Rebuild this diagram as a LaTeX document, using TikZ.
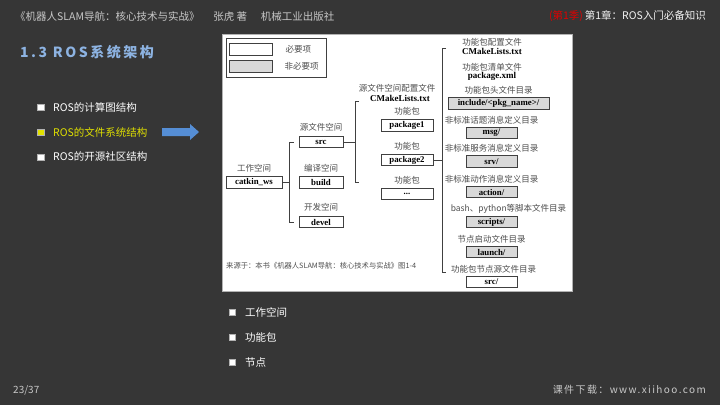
\documentclass[tikz,border=0pt]{standalone}
\usepackage{fontspec}
\setmainfont{Noto Sans CJK SC}
\newfontfamily\boxserif{Liberation Serif}
\newfontfamily\titlefont[LetterSpace=18]{Noto Sans CJK SC}
\newfontfamily\footfont[LetterSpace=14]{Noto Sans CJK SC}
\usetikzlibrary{positioning}

\definecolor{bg}{HTML}{363636}
\definecolor{hdrgray}{HTML}{C8C8C8}
\definecolor{hdrwhite}{HTML}{F2F2F2}
\definecolor{hdrred}{HTML}{E00000}
\definecolor{titleblue}{HTML}{8DB3E2}
\definecolor{hlyellow}{HTML}{E1E100}
\definecolor{arrowblue}{HTML}{558ED5}
\definecolor{boxline}{HTML}{404040}
\definecolor{optgray}{HTML}{D9D9D9}
\definecolor{lblgray}{HTML}{4D4D4D}

\tikzset{
  box/.style={draw=boxline, line width=0.8pt, fill=white, inner sep=0pt,
    minimum height=11.5pt, font=\boxserif\bfseries\fontsize{8.8}{9}\selectfont},
  optbox/.style={box, fill=optgray},
  lbl/.style={text=lblgray, inner sep=0pt, font=\fontsize{8.5}{9}\selectfont},
  boldlbl/.style={text=black, inner sep=0pt, font=\boxserif\bfseries\fontsize{9}{10}\selectfont},
  conn/.style={boxline, line width=0.8pt},
  bullet/.style={draw=gray!60, fill=white, minimum size=6.5pt, inner sep=0pt},
  item/.style={inner sep=0pt, font=\fontsize{10.5}{12}\selectfont},
}

\begin{document}
\begin{tikzpicture}[x=1pt, y=-1pt]
  % Fondo
  \fill[bg] (0,0) rectangle (720,405);
  \useasboundingbox (0,0) rectangle (720,405);

  % Cabecera
  \node[anchor=west, inner sep=0pt, text=hdrgray, font=\fontsize{10.5}{12}\selectfont] (book) at (15,16)
    {《机器人SLAM导航：核心技术与实战》\hspace{1.3em}张虎 著\hspace{1.3em}机械工业出版社};
  \node[anchor=east, inner sep=0pt, text=hdrwhite, font=\fontsize{10.5}{12}\selectfont] (chap) at (706,16)
    {\textcolor{hdrred}{(第1季)}\,第1章：ROS入门必备知识};

  % Titulo
  \node[anchor=west, inner sep=0pt, text=titleblue, font=\titlefont\bfseries\fontsize{14}{16}\selectfont] (title) at (20,52)
    {1.3 ROS系统架构};

  % Lista izquierda
  \node[bullet] (b1) at (40.5,107) {};
  \node[bullet, fill=hlyellow] (b2) at (40.5,132) {};
  \node[bullet] (b3) at (40.5,157) {};
  \node[item, text=white, right=9pt of b1] (t1) {ROS的计算图结构};
  \node[item, text=hlyellow, right=9pt of b2] (t2) {ROS的文件系统结构};
  \node[item, text=white, right=9pt of b3] (t3) {ROS的开源社区结构};

  % Flecha
  \fill[arrowblue] (162,128) -- (190,128) -- (190,124) -- (199,132) -- (190,140)
    -- (190,136) -- (162,136) -- cycle;

  % Figura
  \fill[white] (222,34) rectangle (572,291);
  \draw[gray!60, line width=0.6pt] (222,34) rectangle (572,291);

  % Leyenda
  \draw[conn] (226,38) rectangle (326,77);
  \node[box, minimum width=43pt, minimum height=12pt] (legreq) at (250.5,49) {};
  \node[optbox, minimum width=43pt, minimum height=12pt] (legopt) at (250.5,66) {};
  \node[lbl, right=13pt of legreq] (legreqlbl) {必要项};
  \node[lbl, right=12pt of legopt] (legoptlbl) {非必要项};

  % Espacio de trabajo
  \node[box, minimum width=56pt] (ws) at (254,182.5) {catkin\_ws};
  \node[lbl, above=4pt of ws] (wslbl) {工作空间};
  \node[box, minimum width=44pt] (src) at (321,142) {src};
  \node[box, minimum width=44pt] (build) at (321,182.5) {build};
  \node[box, minimum width=44pt] (devel) at (321,222) {devel};
  \node[lbl, above=4pt of src] (srclbl) {源文件空间};
  \node[lbl, above=4pt of build] (buildlbl) {编译空间};
  \node[lbl, above=4pt of devel] (devellbl) {开发空间};

  % Espacio de fuentes
  \node[lbl] (srccfg) at (397,88) {源文件空间配置文件};
  \node[boldlbl] (srccmake) at (400,98) {CMakeLists.txt};
  \node[box, minimum width=52pt] (pkg1) at (407,125.5) {package1};
  \node[box, minimum width=52pt] (pkg2) at (407,160) {package2};
  \node[box, minimum width=52pt] (pkgn) at (407,194) {...};
  \node[lbl, above=3.5pt of pkg1] (pkg1lbl) {功能包};
  \node[lbl, above=3.5pt of pkg2] (pkg2lbl) {功能包};
  \node[lbl, above=3.5pt of pkgn] (pkgnlbl) {功能包};

  % Paquete
  \node[lbl] (pkgcfg) at (492,42) {功能包配置文件};
  \node[boldlbl] (pkgcmake) at (492,51) {CMakeLists.txt};
  \node[lbl] (pkgman) at (492,67) {功能包清单文件};
  \node[boldlbl] (pkgxml) at (492,76) {package.xml};
  \node[optbox, minimum width=101pt] (incl) at (498.5,103.5) {include/<pkg\_name>/};
  \node[optbox, minimum width=51pt] (msg) at (491.5,133) {msg/};
  \node[optbox, minimum width=51pt] (srv) at (491.5,161.5) {srv/};
  \node[optbox, minimum width=51pt] (act) at (491.5,192) {action/};
  \node[optbox, minimum width=51pt] (scr) at (491.5,222) {scripts/};
  \node[optbox, minimum width=51pt] (lau) at (491.5,252) {launch/};
  \node[box, minimum width=51pt] (nsrc) at (491.5,282) {src/};
  \node[lbl, above=2.5pt of incl] (incllbl) {功能包头文件目录};
  \node[lbl, above=2.5pt of msg] (msglbl) {非标准话题消息定义目录};
  \node[lbl, above=2.5pt of srv] (srvlbl) {非标准服务消息定义目录};
  \node[lbl, above=2.5pt of act] (actlbl) {非标准动作消息定义目录};
  \node[lbl, above=2.5pt of scr, xshift=17pt] (scrlbl) {bash、python等脚本文件目录};
  \node[lbl, above=2.5pt of lau] (laulbl) {节点启动文件目录};
  \node[lbl, above=2.5pt of nsrc, xshift=2pt] (nsrclbl) {功能包节点源文件目录};

  % Llaves
  \coordinate (k2top) at (359,101);
  \coordinate (k2bot) at (359,182);
  \coordinate (k3top) at (446,48);
  \coordinate (k3bot) at (446,272);
  \draw[conn] (ws.east) -- ++(8,0);
  \draw[conn] ([xshift=-5pt]src.west) -- ++(-4,0) |- ([xshift=-5pt]devel.west);
  \draw[conn] (src.east) -- ++(12,0);
  \draw[conn] (k2top) -- ++(-4,0) |- (k2bot);
  \draw[conn] (pkg2.east) -- ++(9,0);
  \draw[conn] (k3top) -- ++(-4,0) |- (k3bot);

  % Fuente
  \node[anchor=west, inner sep=0pt, text=lblgray, font=\fontsize{7.3}{8}\selectfont] (note) at (226,266)
    {来源于：本书《机器人SLAM导航：核心技术与实战》图1-4};

  % Lista inferior
  \node[bullet] (c1) at (232,312) {};
  \node[bullet] (c2) at (232,337) {};
  \node[bullet] (c3) at (232,362) {};
  \node[item, text=white, anchor=west] (u1) at (245,312) {工作空间};
  \node[item, text=white, anchor=west] (u2) at (245,337) {功能包};
  \node[item, text=white, anchor=west] (u3) at (245,362) {节点};

  % Pie
  \node[anchor=west, inner sep=0pt, text=hdrgray, font=\fontsize{10}{12}\selectfont] (page) at (13,390) {23/37};
  \node[anchor=east, inner sep=0pt, text=hdrgray, font=\footfont\fontsize{10}{12}\selectfont] (site) at (706,390) {课件下载：www.xiihoo.com};
\end{tikzpicture}
\end{document}
